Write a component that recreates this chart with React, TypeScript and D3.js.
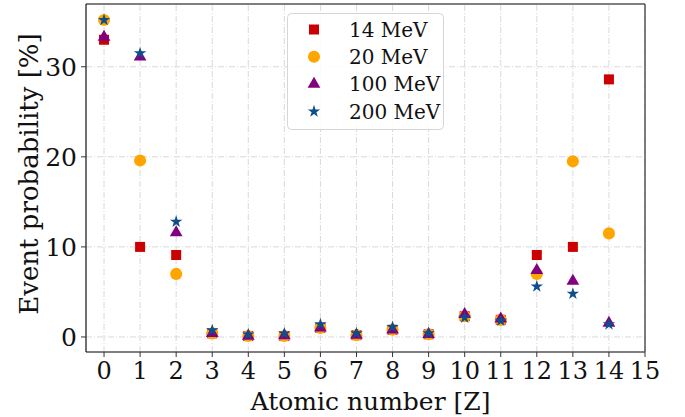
import React from "react";
import * as d3 from "d3";

// atomic numbers on the x axis
const atomicNumbers = [0, 1, 2, 3, 4, 5, 6, 7, 8, 9, 10, 11, 12, 13, 14];

// event probability [%] per beam energy
const p14MeV = [33.0, 10.0, 9.1, 0.4, 0.1, 0.1, 1.0, 0.2, 0.8, 0.3, 2.3, 1.9, 9.1, 10.0, 28.6];
const p20MeV = [35.2, 19.6, 7.0, 0.4, 0.1, 0.1, 1.0, 0.2, 0.8, 0.3, 2.3, 1.9, 7.0, 19.5, 11.5];
const p100MeV = [33.3, 31.1, 11.6, 0.4, 0.1, 0.15, 1.0, 0.2, 0.8, 0.3, 2.5, 2.0, 7.4, 6.2, 1.55];
const p200MeV = [35.2, 31.5, 12.8, 0.74, 0.27, 0.38, 1.4, 0.4, 1.1, 0.4, 2.15, 1.8, 5.6, 4.8, 1.4];

const xTicks = d3.range(0, 16);
const yTicks = [0, 10, 20, 30];

const series = [
  { label: "14 MeV", values: p14MeV, color: "#cc0000", symbol: d3.symbolSquare, size: 100 },
  { label: "20 MeV", values: p20MeV, color: "#ffa500", symbol: d3.symbolCircle, size: 115 },
  { label: "100 MeV", values: p100MeV, color: "#800080", symbol: d3.symbolTriangle, size: 70 },
  { label: "200 MeV", values: p200MeV, color: "#104e8b", symbol: d3.symbolStar, size: 48 },
];

const W = 685;
const H = 417;
const margin = { top: 4, right: 40, bottom: 65, left: 86 };
const font = "'DejaVu Serif', serif";

export default function App() {
  const x = d3.scaleLinear().domain([-0.5, 15]).range([margin.left, W - margin.right]);
  const y = d3.scaleLinear().domain([-1.67, 36.97]).range([H - margin.bottom, margin.top]);
  const x0 = margin.left, x1 = W - margin.right;
  const y0 = H - margin.bottom, y1 = margin.top;

  return (
    <svg width={W} height={H} style={{ position: "absolute", left: 0, top: 0, background: "white" }} fontFamily={font}>
      {/* grid */}
      <g stroke="#d9d9d9" strokeWidth={1} strokeDasharray="6,2,1,2">
        {xTicks.map(t => (
          <line key={"gx" + t} x1={x(t)} x2={x(t)} y1={y0} y2={y1} />
        ))}
        {yTicks.map(t => (
          <line key={"gy" + t} x1={x0} x2={x1} y1={y(t)} y2={y(t)} />
        ))}
      </g>

      {/* markers */}
      {series.map(s => {
        const path = d3.symbol().type(s.symbol).size(s.size)();
        return (
          <g key={s.label} fill={s.color}>
            {s.values.map((v, i) => (
              <path key={i} d={path || ""} transform={`translate(${x(atomicNumbers[i])},${y(v)})`} />
            ))}
          </g>
        );
      })}

      {/* spines */}
      <line x1={x0} x2={x1} y1={y1} y2={y1} stroke="#555" strokeWidth={1.5} />
      <line x1={x1} x2={x1} y1={y1} y2={y0} stroke="#555" strokeWidth={1.5} />
      <line x1={x0} x2={x1} y1={y0} y2={y0} stroke="#555" strokeWidth={1.5} />
      <line x1={x0} x2={x0} y1={y1} y2={y0} stroke="#111" strokeWidth={1.2} />

      {/* x axis */}
      <g>
        {xTicks.map(t => (
          <g key={"xt" + t} transform={`translate(${x(t)},${y0})`}>
            <line y1={0} y2={5} stroke="#333" />
            <text y={27} textAnchor="middle" fontSize={24} fill="#111">{t}</text>
          </g>
        ))}
        <text x={(x0 + x1) / 2 + 5} y={410} textAnchor="middle" fontSize={25} fill="#111">Atomic number [Z]</text>
      </g>

      {/* y axis */}
      <g>
        {yTicks.map(t => (
          <g key={"yt" + t} transform={`translate(${x0},${y(t)})`}>
            <line x1={0} x2={-5} stroke="#333" />
            <text x={-9} dy="0.36em" textAnchor="end" fontSize={25} fill="#111">{t}</text>
          </g>
        ))}
        <text transform={`translate(38,174) rotate(-90)`} textAnchor="middle" fontSize={26} fill="#111">
          Event probability [%]
        </text>
      </g>

      {/* legend */}
      <g>
        <rect x={287.5} y={13.5} width={156} height={116} rx={4} fill="white" fillOpacity={0.85} stroke="#d6d6d6" />
        {series.map((s, i) => {
          const path = d3.symbol().type(s.symbol).size(s.size)();
          const ly = 29.5 + i * 27.3;
          return (
            <g key={"lg" + s.label}>
              <path d={path || ""} fill={s.color} transform={`translate(314,${ly})`} />
              <text x={349} y={ly} dy="0.36em" fontSize={20} fill="#111">{s.label}</text>
            </g>
          );
        })}
      </g>
    </svg>
  );
}
